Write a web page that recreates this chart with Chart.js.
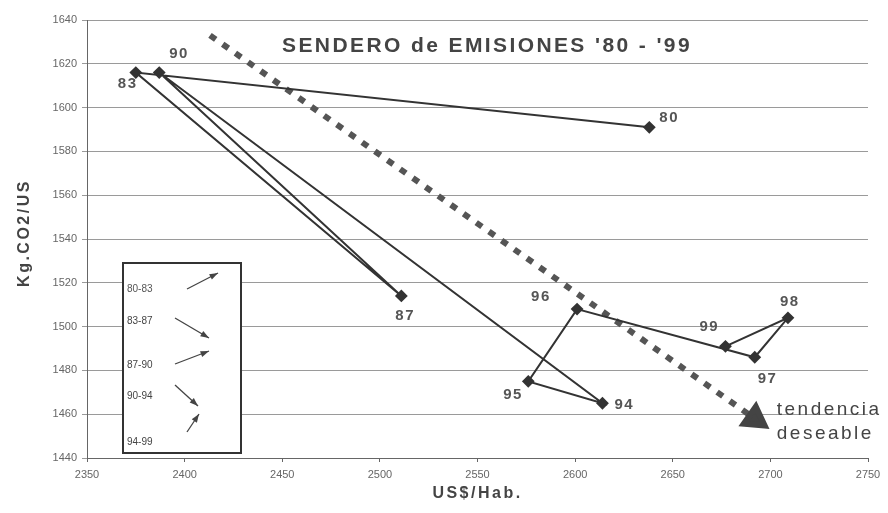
<!DOCTYPE html>
<html>
<head>
<meta charset="utf-8">
<script src="https://cdn.jsdelivr.net/npm/chart.js@4"></script>
<style>
  html, body { margin: 0; padding: 0; background: #fff; }
  #wrap { width: 888px; height: 513px; }
</style>
</head>
<body>
<div id="wrap"><canvas id="chart" width="888" height="513"></canvas></div>
<script>
// Emission path 1980-1999: GDP per inhabitant vs CO2 intensity
const years = ['80', '83', '87', '90', '94', '95', '96', '97', '98', '99'];
const usdPerInhabitant = [2638, 2375, 2511, 2387, 2614, 2576, 2601, 2692, 2709, 2677];
const kgCo2PerUs = [1591, 1616, 1514, 1616, 1465, 1475, 1508, 1486, 1504, 1491];

// desired trend arrow (start, end)
const trendX = [2413, 2692];
const trendY = [1633, 1458];

const periods = ['80-83', '83-87', '87-90', '90-94', '94-99'];
const xTicks = [2350, 2750, 50];
const yTicks = [1440, 1640, 20];

// label offsets in px from each marker
const labelOffsets = [[10, -9], [-18, 11], [-6, 20], [10, -19], [12, 2], [-25, 14], [-46, -12], [3, 22], [-8, -16], [-26, -19]];

const ink = '#333';
const textGray = '#555';
const fontFamily = '"Liberation Sans", Arial, sans-serif';

const annotations = {
  id: 'annotations',
  afterDatasetsDraw(chart) {
    const { ctx, chartArea, scales } = chart;
    const meta = chart.getDatasetMeta(0);
    ctx.save();

    // year labels
    ctx.fillStyle = textGray;
    ctx.font = 'bold 15px ' + fontFamily;
    ctx.letterSpacing = '1.5px';
    ctx.textBaseline = 'middle';
    ctx.textAlign = 'left';
    meta.data.forEach((pt, i) => {
      const [dx, dy] = labelOffsets[i];
      ctx.fillText(years[i], pt.x + dx, pt.y + dy);
    });

    // chart title inside plot
    ctx.fillStyle = '#444';
    ctx.font = 'bold 21px ' + fontFamily;
    ctx.letterSpacing = '2.4px';
    ctx.textAlign = 'center';
    ctx.fillText("SENDERO de EMISIONES '80 - '99", chartArea.left + 400, chartArea.top + 26);

    // axis titles
    ctx.font = 'bold 16px ' + fontFamily;
    ctx.letterSpacing = '2.5px';
    ctx.fillText('US$/Hab.', (chartArea.left + chartArea.right) / 2, chartArea.bottom + 36);
    ctx.save();
    ctx.translate(25, (chartArea.top + chartArea.bottom) / 2 - 6);
    ctx.rotate(-Math.PI / 2);
    ctx.fillText('Kg.CO2/US', 0, 0);
    ctx.restore();

    // trend text
    const tx = scales.x.getPixelForValue(trendX[1]);
    const ty = scales.y.getPixelForValue(trendY[1]);
    ctx.fillStyle = '#444';
    ctx.font = '19px ' + fontFamily;
    ctx.letterSpacing = '2.5px';
    ctx.textAlign = 'left';
    ctx.fillText('tendencia', tx + 22, ty - 9);
    ctx.fillText('deseable', tx + 22, ty + 15);

    // period inset box
    const bx = chartArea.left + 36, by = chartArea.top + 243, bw = 118, bh = 190;
    ctx.letterSpacing = '0px';
    ctx.fillStyle = '#fff';
    ctx.fillRect(bx, by, bw, bh);
    ctx.strokeStyle = ink;
    ctx.lineWidth = 2;
    ctx.strokeRect(bx, by, bw, bh);

    const rowY = [26, 58, 102, 133, 179];
    const arrows = [[64, 26, 95, 10], [52, 55, 86, 75], [52, 101, 86, 88], [52, 122, 75, 143], [64, 169, 76, 151]];
    ctx.font = '10px ' + fontFamily;
    ctx.fillStyle = textGray;
    ctx.textAlign = 'left';
    periods.forEach((p, i) => {
      ctx.fillText(p, bx + 4, by + rowY[i]);
      const [x1, y1, x2, y2] = arrows[i];
      drawArrow(ctx, bx + x1, by + y1, bx + x2, by + y2);
    });
    ctx.restore();
  }
};

function drawArrow(ctx, x1, y1, x2, y2) {
  const a = Math.atan2(y2 - y1, x2 - x1);
  ctx.strokeStyle = '#444';
  ctx.fillStyle = '#444';
  ctx.lineWidth = 1.3;
  ctx.beginPath();
  ctx.moveTo(x1, y1);
  ctx.lineTo(x2, y2);
  ctx.stroke();
  ctx.beginPath();
  ctx.moveTo(x2, y2);
  ctx.lineTo(x2 - 9 * Math.cos(a - 0.35), y2 - 9 * Math.sin(a - 0.35));
  ctx.lineTo(x2 - 9 * Math.cos(a + 0.35), y2 - 9 * Math.sin(a + 0.35));
  ctx.closePath();
  ctx.fill();
}

new Chart(document.getElementById('chart'), {
  type: 'scatter',
  data: {
    datasets: [{
      label: 'Sendero',
      data: years.map((_, i) => ({ x: usdPerInhabitant[i], y: kgCo2PerUs[i] })),
      showLine: true,
      borderColor: ink,
      borderWidth: 2,
      pointStyle: 'rectRot',
      pointRadius: 5,
      pointBackgroundColor: ink,
      pointBorderColor: ink,
      order: 1
    }, {
      label: 'Tendencia',
      data: trendX.map((x, i) => ({ x: x, y: trendY[i] })),
      showLine: true,
      borderColor: '#555',
      borderWidth: 6,
      borderDash: [7, 8.5],
      pointStyle: 'triangle',
      pointRadius: [0, 12],
      pointRotation: 125,
      pointBackgroundColor: '#444',
      pointBorderColor: '#444',
      order: 2
    }]
  },
  options: {
    responsive: false,
    animation: false,
    layout: { padding: { left: 0, right: 20, top: 20, bottom: 0 } },
    plugins: {
      legend: { display: false },
      tooltip: { enabled: false }
    },
    scales: {
      x: {
        type: 'linear',
        min: xTicks[0],
        max: xTicks[1],
        afterFit: (s) => { s.height = 55; },
        ticks: {
          stepSize: xTicks[2],
          color: '#666',
          padding: 6,
          maxRotation: 0,
          callback: (v) => String(v),
          font: { family: fontFamily, size: 11 }
        },
        grid: { drawOnChartArea: false, drawTicks: true, tickLength: 4, color: '#666' },
        border: { color: '#666', width: 1 }
      },
      y: {
        min: yTicks[0],
        max: yTicks[1],
        afterFit: (s) => { s.width = 87; },
        ticks: {
          stepSize: yTicks[2],
          color: '#666',
          padding: 5,
          callback: (v) => String(v),
          font: { family: fontFamily, size: 11 }
        },
        grid: { color: '#9a9a9a', lineWidth: 1, tickLength: 5 },
        border: { color: '#666', width: 1 }
      }
    }
  },
  plugins: [annotations]
});
</script>
</body>
</html>
